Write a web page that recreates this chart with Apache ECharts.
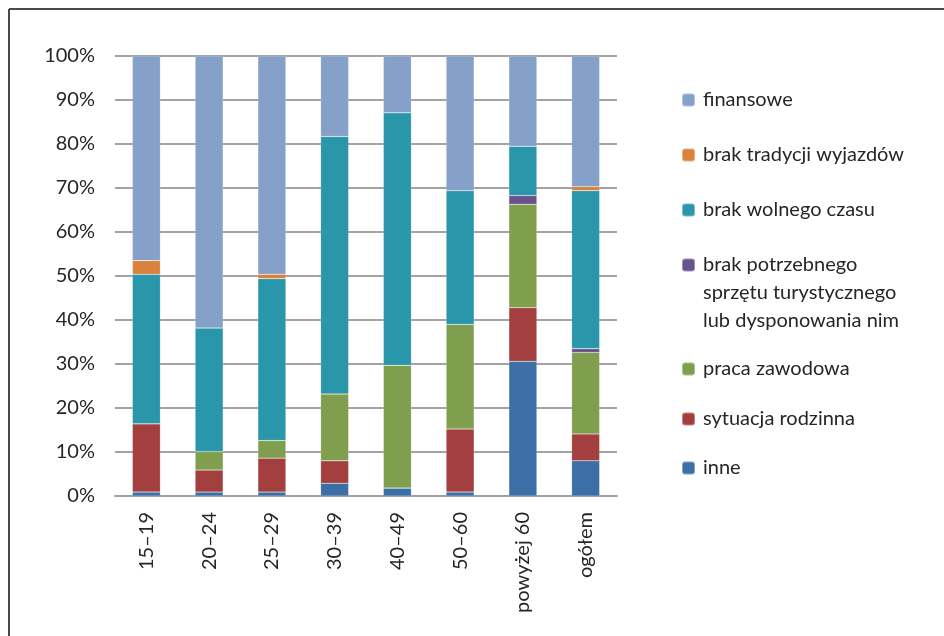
<!DOCTYPE html>
<html>
<head>
<meta charset="utf-8">
<script src="https://cdn.jsdelivr.net/npm/echarts@6/dist/echarts.min.js"></script>
<style>
  html, body { margin: 0; padding: 0; background: #fff; }
  #chart { width: 944px; height: 636px; }
</style>
</head>
<body>
<div id="chart"></div>
<script>
// Age groups along the x axis
const categories = ['15–19', '20–24', '25–29', '30–39', '40–49', '50–60', 'powyżej 60', 'ogółem'];

// Share of each reason (%) per age group, stacked from the bottom up
const inne              = [0.9, 0.9, 0.9, 2.9, 1.8, 0.9, 30.6, 8.0];
const sytuacjaRodzinna  = [15.5, 5.0, 7.7, 5.1, 0.0, 14.3, 12.2, 6.1];
const pracaZawodowa     = [0.0, 4.2, 4.0, 15.2, 27.9, 23.8, 23.5, 18.5];
const brakSprzetu       = [0.0, 0.0, 0.0, 0.0, 0.0, 0.0, 2.0, 0.9];
const brakWolnegoCzasu  = [34.0, 28.1, 36.8, 58.5, 57.4, 30.4, 11.2, 35.9];
const brakTradycji      = [3.1, 0.0, 1.0, 0.0, 0.0, 0.0, 0.0, 0.9];
const finansowe         = [46.5, 61.8, 49.6, 18.3, 12.9, 30.6, 20.5, 29.7];

const yTicks = [0, 10, 20, 30, 40, 50, 60, 70, 80, 90, 100];

const seriesDefs = [
  { name: 'inne', data: inne, color: '#3b6fa6' },
  { name: 'sytuacja rodzinna', data: sytuacjaRodzinna, color: '#a33f3f' },
  { name: 'praca zawodowa', data: pracaZawodowa, color: '#7f9f4e' },
  { name: 'brak potrzebnego\nsprzętu turystycznego\nlub dysponowania nim', data: brakSprzetu, color: '#68548d' },
  { name: 'brak wolnego czasu', data: brakWolnegoCzasu, color: '#2a96a9' },
  { name: 'brak tradycji wyjazdów', data: brakTradycji, color: '#d9823c' },
  { name: 'finansowe', data: finansowe, color: '#86a1c9' }
];

// Legend order (top to bottom) and vertical centres of each entry's first text line
const legendOrder = [6, 5, 4, 3, 2, 1, 0];
const legendCentres = [100, 155, 210, 265, 369, 419, 468];

const FONT = 'Lato';
const FONT_SIZE = 20;
const LINE_H = 28;

// One legend per entry; multi-line entries get leading blank lines so the
// swatch lines up with the first line of text instead of the block centre.
const legends = legendOrder.map((idx, i) => {
  const name = seriesDefs[idx].name;
  const lines = name.split('\n').length;
  const boxH = (2 * lines - 1) * LINE_H;
  return {
    data: [name],
    orient: 'vertical',
    left: 681,
    top: legendCentres[i] - boxH / 2,
    padding: 0,
    itemWidth: 13,
    itemHeight: 13,
    itemGap: 0,
    selectedMode: false,
    formatter: n => '\n'.repeat(lines - 1) + n,
    textStyle: {
      fontFamily: FONT,
      fontSize: FONT_SIZE,
      color: '#262626',
      lineHeight: LINE_H,
      padding: [0, 0, 0, 3]
    }
  };
});

const chart = echarts.init(document.getElementById('chart'), null, { renderer: 'canvas' });

chart.setOption({
  backgroundColor: '#ffffff',
  animation: false,
  grid: { left: 115, right: 327, top: 56, bottom: 140, containLabel: false },
  legend: legends,
  xAxis: {
    type: 'category',
    data: categories,
    axisLine: { lineStyle: { color: '#a0a0a0', width: 2 } },
    axisTick: { show: false },
    axisLabel: {
      rotate: 90,
      margin: 16,
      fontFamily: FONT,
      fontSize: FONT_SIZE,
      color: '#262626',
      interval: 0
    }
  },
  yAxis: {
    type: 'value',
    min: yTicks[0],
    max: yTicks[yTicks.length - 1],
    interval: 10,
    axisLine: { show: false },
    axisTick: { show: false },
    splitLine: { lineStyle: { color: '#a3a3a3', width: 2 } },
    axisLabel: {
      margin: 20,
      fontFamily: FONT,
      fontSize: FONT_SIZE,
      color: '#262626',
      formatter: v => v + '%'
    }
  },
  series: seriesDefs.map(s => ({
    name: s.name,
    type: 'bar',
    stack: 'total',
    barWidth: 28,
    data: s.data,
    itemStyle: {
      color: s.color,
      borderColor: 'rgba(255,255,255,0.35)',
      borderWidth: 0.5
    },
    emphasis: { disabled: true }
  })),
  graphic: [
    {
      type: 'line',
      shape: { x1: 9, y1: 9, x2: 944, y2: 9 },
      style: { stroke: '#4a4a4a', lineWidth: 2 }
    },
    {
      type: 'line',
      shape: { x1: 9, y1: 9, x2: 9, y2: 636 },
      style: { stroke: '#4a4a4a', lineWidth: 2 }
    }
  ]
});
</script>
</body>
</html>
